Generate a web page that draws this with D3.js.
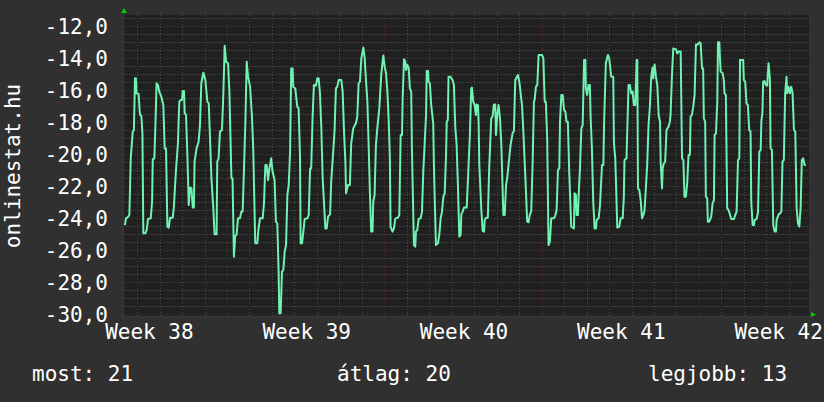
<!DOCTYPE html>
<html>
<head>
<meta charset="utf-8">
<script src="https://cdn.jsdelivr.net/npm/d3@7"></script>
<style>
html,body{margin:0;padding:0;background:#303030;}
svg{display:block;}
text{font-family:"DejaVu Sans Mono",monospace;fill:#ffffff;}
</style>
</head>
<body>
<svg id="chart" width="824" height="402"></svg>
<script>
// ---- data (days since start of chart, value) ----
const sampleDays = [
0.04,0.09,0.19,0.24,0.30,0.39,0.44,0.49,0.53,0.56,0.65,0.71,0.77,0.82,0.86,0.95,1.01,1.07,1.19,1.25,
1.28,1.35,1.39,1.45,1.51,1.57,1.66,1.75,1.81,1.87,1.93,1.99,2.05,2.17,2.22,2.31,2.40,2.46,2.52,2.58,
2.61,2.67,2.70,2.76,2.82,2.88,2.94,3.00,3.06,3.11,3.14,3.23,3.32,3.38,3.44,3.53,3.62,3.71,3.77,3.83,
3.89,3.97,4.03,4.12,4.15,4.21,4.27,4.36,4.42,4.48,4.54,4.63,4.69,4.78,4.83,4.89,4.95,5.01,5.07,5.16,
5.22,5.28,5.34,5.40,5.46,5.52,5.61,5.69,5.75,5.84,5.93,5.98,6.05,6.17,6.23,6.29,6.35,6.41,6.47,6.55,
6.61,6.70,6.76,6.82,6.88,6.91,6.97,7.03,7.09,7.15,7.21,7.27,7.33,7.39,7.44,7.50,7.53,7.62,7.71,7.77,
7.83,7.86,7.92,7.98,8.04,8.16,8.22,8.28,8.33,8.39,8.45,8.54,8.60,8.66,8.72,8.78,8.84,8.90,8.96,9.02,
9.08,9.17,9.22,9.28,9.37,9.43,9.49,9.55,9.67,9.73,9.79,9.85,9.88,9.97,10.05,10.11,10.20,10.32,10.38,10.44,
10.50,10.56,10.65,10.71,10.77,10.83,10.89,10.94,11.00,11.06,11.09,11.15,11.21,11.27,11.36,11.45,11.54,11.60,11.66,11.72,
11.78,11.83,11.86,11.95,12.01,12.07,12.10,12.19,12.25,12.31,12.37,12.40,12.46,12.52,12.55,12.61,12.67,12.72,12.78,12.81,
12.90,12.96,12.99,13.05,13.11,13.20,13.26,13.32,13.38,13.44,13.47,13.53,13.55,13.61,13.67,13.76,13.79,13.88,13.97,14.03,
14.09,14.15,14.21,14.27,14.33,14.36,14.41,14.44,14.53,14.62,14.68,14.74,14.80,14.86,14.92,14.98,15.01,15.07,15.13,15.25,
15.33,15.39,15.45,15.48,15.54,15.60,15.66,15.69,15.75,15.78,15.81,15.90,15.96,16.02,16.05,16.11,16.19,16.25,16.34,16.40,
16.46,16.52,16.55,16.61,16.67,16.73,16.79,16.88,16.94,17.00,17.05,17.14,17.20,17.29,17.35,17.41,17.53,17.59,17.71,17.77,
17.88,17.94,18.00,18.06,18.12,18.18,18.24,18.27,18.33,18.39,18.45,18.60,18.66,18.72,18.77,18.83,18.89,18.95,19.01,19.13,
19.19,19.25,19.31,19.37,19.40,19.46,19.52,19.58,19.64,19.69,19.75,19.81,19.90,20.02,20.05,20.11,20.14,20.20,20.23,20.29,
20.35,20.41,20.47,20.53,20.55,20.61,20.67,20.73,20.76,20.82,20.88,20.94,21.00,21.03,21.12,21.18,21.27,21.33,21.36,21.44,
21.53,21.59,21.68,21.77,21.80,21.86,21.95,22.04,22.10,22.19,22.24,22.27,22.36,22.45,22.51,22.57,22.63,22.69,22.75,22.81,
22.84,22.87,22.93,22.99,23.05,23.11,23.16,23.22,23.28,23.34,23.40,23.46,23.52,23.55,23.61,23.67,23.73,23.79,23.85,23.88,
23.94,23.97,24.02,24.08,24.14,24.23,24.29,24.32,24.38,24.44,24.56,24.62,24.68,24.77,24.83,24.89,24.94,25.00,25.06,25.12,
25.18,25.21,25.27,25.33,25.39,25.45,25.54,25.60,25.66,25.72,25.77,25.80,25.86,25.89,25.95,25.98,26.04,26.13,26.19,26.25,
26.28,26.34,26.40,26.43,26.49,26.52,26.55,26.64,26.69,26.72,26.78,26.84,26.90,26.96,27.02,27.14,27.20,27.26,27.32,27.38,
27.41,27.55,27.58,27.64,27.70,27.76,27.82,27.88,27.91,27.97,28.03,28.06,28.15,28.21,28.27,28.33,28.36,28.41,28.44,28.50,
28.56,28.62,28.68,28.74,28.77,28.83,28.89,28.95,29.01,29.04,29.13,29.19,29.25,29.30,29.36,29.42,29.48,29.51,29.57,29.63,
29.69,29.75,29.81,29.87,29.93,29.99,30.05,30.11,30.16,30.22,30.28,30.34
];
const sampleValues = [
-24.44,-24.02,-23.92,-23.77,-20.27,-18.60,-18.50,-15.27,-15.27,-16.21,-16.25,-17.56,-17.60,-18.71,-24.96,-24.96,-24.75,-24.06,-24.02,-22.98,
-20.33,-20.27,-18.60,-15.58,-15.69,-16.10,-16.42,-16.94,-19.65,-19.65,-24.54,-24.60,-23.98,-23.98,-23.29,-21.06,-19.33,-16.73,-16.63,-16.63,
-16.06,-16.06,-17.46,-17.56,-20.06,-23.19,-22.10,-22.15,-23.35,-23.35,-20.48,-19.65,-19.23,-18.19,-15.58,-14.92,-15.38,-16.73,-16.83,-19.13,
-21.52,-23.29,-25.02,-25.02,-20.48,-20.27,-18.60,-18.50,-16.27,-13.23,-14.23,-14.33,-16.10,-21.52,-21.52,-26.42,-25.10,-25.06,-24.02,-24.02,
-23.60,-23.60,-20.90,-18.08,-14.23,-15.17,-15.79,-17.56,-19.65,-25.58,-25.58,-24.75,-24.02,-24.02,-23.08,-20.69,-20.69,-21.63,-20.90,-20.27,
-21.10,-21.63,-24.23,-24.33,-27.35,-29.96,-29.96,-27.35,-27.25,-26.10,-25.69,-22.56,-21.94,-19.85,-14.65,-14.65,-15.79,-15.90,-17.04,-17.15,
-20.06,-25.58,-25.58,-24.85,-24.06,-24.02,-23.81,-20.90,-20.90,-17.77,-15.69,-15.73,-15.27,-15.27,-16.21,-18.40,-21.52,-23.08,-24.65,-24.65,
-23.92,-23.77,-21.73,-20.48,-18.50,-15.90,-15.79,-15.38,-15.38,-16.10,-18.60,-20.48,-22.46,-21.94,-21.94,-19.33,-18.40,-18.08,-17.67,-15.58,
-15.48,-14.02,-13.35,-14.02,-15.48,-16.73,-19.65,-22.35,-24.85,-24.85,-22.98,-22.56,-19.44,-18.40,-17.15,-14.96,-13.85,-14.54,-14.96,-16.10,
-17.98,-20.27,-24.54,-24.85,-24.65,-24.06,-24.02,-23.98,-23.81,-18.81,-18.81,-16.52,-14.08,-14.23,-14.75,-14.44,-14.65,-15.90,-16.10,-19.54,
-25.69,-25.79,-24.85,-24.75,-24.06,-24.02,-23.60,-21.00,-19.33,-17.56,-14.81,-14.81,-15.48,-15.58,-16.94,-18.08,-20.79,-25.69,-25.58,-25.06,
-24.02,-23.60,-22.67,-22.46,-20.06,-17.98,-17.88,-15.17,-15.17,-15.38,-15.69,-18.29,-19.44,-22.04,-25.17,-25.06,-23.77,-23.60,-23.35,-23.35,
-20.79,-18.81,-15.90,-15.85,-16.73,-16.94,-17.56,-16.90,-16.94,-18.08,-20.69,-23.50,-24.81,-24.85,-24.13,-23.98,-23.98,-20.90,-17.77,-17.67,
-16.90,-16.90,-18.81,-17.56,-16.94,-17.77,-19.44,-23.81,-23.81,-21.94,-21.52,-20.27,-19.44,-18.71,-18.56,-15.38,-15.06,-15.48,-16.94,-18.60,
-22.15,-24.23,-24.27,-23.77,-23.60,-20.69,-16.73,-16.63,-15.79,-15.69,-13.81,-13.81,-14.02,-16.73,-16.73,-19.02,-25.69,-25.48,-24.02,-24.02,
-23.85,-23.50,-21.00,-20.90,-17.98,-16.31,-16.31,-17.25,-17.35,-17.98,-17.98,-21.10,-24.54,-24.65,-22.46,-22.56,-23.81,-23.81,-22.56,-20.90,
-18.40,-18.19,-14.13,-14.13,-15.90,-16.31,-15.69,-15.69,-17.56,-19.65,-22.98,-24.65,-24.65,-24.13,-24.02,-23.19,-20.69,-20.69,-18.19,-14.33,
-13.81,-14.02,-15.17,-15.17,-19.33,-20.27,-24.60,-24.54,-24.02,-24.02,-22.73,-20.38,-20.27,-15.69,-15.69,-16.21,-16.10,-16.94,-16.94,-14.13,
-14.13,-22.15,-22.25,-22.88,-24.02,-23.81,-23.56,-22.15,-20.69,-18.19,-17.04,-15.17,-14.60,-15.27,-14.40,-15.17,-15.69,-17.56,-17.98,-20.48,
-22.15,-20.90,-20.58,-20.48,-18.50,-18.29,-17.98,-17.56,-15.17,-13.40,-13.46,-13.71,-13.60,-13.60,-20.27,-20.38,-22.67,-22.67,-21.83,-20.06,
-20.06,-17.67,-17.56,-17.04,-16.31,-13.15,-13.15,-13.02,-13.08,-14.65,-14.65,-17.77,-17.98,-22.67,-22.77,-24.23,-24.23,-23.92,-23.08,-22.88,
-18.81,-18.71,-16.73,-13.02,-13.02,-14.13,-14.85,-14.96,-15.38,-16.21,-16.31,-23.40,-23.50,-23.77,-24.06,-24.06,-23.81,-23.60,-20.38,-20.27,
-14.13,-14.13,-15.38,-15.48,-16.83,-16.94,-18.50,-18.60,-22.98,-24.44,-24.44,-24.13,-24.06,-23.65,-19.85,-19.75,-17.98,-17.35,-15.48,-15.44,
-15.69,-15.73,-14.33,-15.27,-19.65,-19.75,-24.44,-24.85,-24.85,-24.13,-23.77,-23.71,-23.60,-20.48,-20.38,-16.21,-15.17,-16.21,-15.79,-16.21,
-15.79,-16.21,-18.50,-18.60,-23.40,-24.33,-24.54,-23.29,-20.38,-20.27,-20.69,-20.69
];

// axis ticks / labels
const yTicks = [-30,-28,-26,-24,-22,-20,-18,-16,-14,-12];
const weekLabels = ["Week 38","Week 39","Week 40","Week 41","Week 42"];
const weekLabelDays = [1.13, 8.13, 15.13, 22.13, 29.13];
const dayLineDays = d3.range(30).map(i => 0.583 + i);      // midnight grid
const weekLineIndex = 4;                                      // every 7th day line from here is a week boundary
const yaxisTitle = "onlinestat.hu";
const legendItems = [["most: 21", 32], ["átlag: 20", 337], ["legjobb: 13", 648]];
const totalDays = 30.48;

// ---- layout ----
const plot = {left: 123, right: 809, top: 15, bottom: 316};
const svg = d3.select("#chart");
svg.append("rect").attr("width",824).attr("height",402).attr("fill","#303030");
svg.append("rect").attr("x",plot.left).attr("y",plot.top)
   .attr("width",plot.right-plot.left).attr("height",plot.bottom-plot.top).attr("fill","#202020");

const x = d3.scaleLinear().domain([0,totalDays]).range([124,809]);
const y = d3.scaleLinear().domain([-30,-12]).range([314,26]);

const gridGray = "#484848", gridRed = "#602828";

// horizontal grid
const hLines = d3.range(0, 38).map(i => -30 + i*0.5);
svg.append("g").selectAll("line").data(hLines).join("line")
  .attr("x1",121).attr("x2",811)
  .attr("y1",d=>Math.round(y(d))+0.5).attr("y2",d=>Math.round(y(d))+0.5)
  .attr("stroke",(d,i)=> (i%4===0) ? gridRed : gridGray)
  .attr("stroke-width",1).attr("stroke-dasharray","1,1");

// vertical grid
svg.append("g").selectAll("line").data(dayLineDays).join("line")
  .attr("x1",d=>Math.round(x(d))+0.5).attr("x2",d=>Math.round(x(d))+0.5)
  .attr("y1",12).attr("y2",318)
  .attr("stroke",(d,i)=> ((i-weekLineIndex)%7===0) ? gridRed : gridGray)
  .attr("stroke-width",1).attr("stroke-dasharray","1,2");

// axes lines
svg.append("line").attr("x1",123.5).attr("x2",123.5).attr("y1",12).attr("y2",318).attr("stroke","#3a3a3a");
svg.append("line").attr("x1",121).attr("x2",811).attr("y1",316.5).attr("y2",316.5).attr("stroke","#3a3a3a");

// data line
const pts = sampleDays.map((d,i)=>[d, sampleValues[i]]);
const line = d3.line().x(d=>x(d[0])).y(d=>y(d[1]));
svg.append("path").datum(pts).attr("d",line)
  .attr("fill","none").attr("stroke","#6ff2b2").attr("stroke-width",2).attr("stroke-linejoin","round");

// arrows
svg.append("path").attr("d","M121,13 L124,8 L127,13 Z").attr("fill","#00d000");
svg.append("path").attr("d","M811,312 L816,314.5 L811,317 Z").attr("fill","#00d000");

// y tick labels
const fmt = v => v.toFixed(1).replace(".", ",");
svg.append("g").selectAll("text").data(yTicks).join("text")
  .attr("x",108).attr("y",d=>y(d)+7.5).attr("text-anchor","end")
  .attr("font-size",21).text(fmt);

// x labels
svg.append("g").selectAll("text").data(weekLabels).join("text")
  .attr("x",(d,i)=>x(weekLabelDays[i])).attr("y",339).attr("text-anchor","middle")
  .attr("font-size",21).text(d=>d);

// y axis title
svg.append("text").attr("transform","translate(20,166) rotate(-90)")
  .attr("text-anchor","middle").attr("font-size",21).text(yaxisTitle);

// legend
svg.append("g").selectAll("text").data(legendItems).join("text")
  .attr("x",d=>d[1]).attr("y",381).attr("font-size",21).text(d=>d[0]);
</script>
</body>
</html>
